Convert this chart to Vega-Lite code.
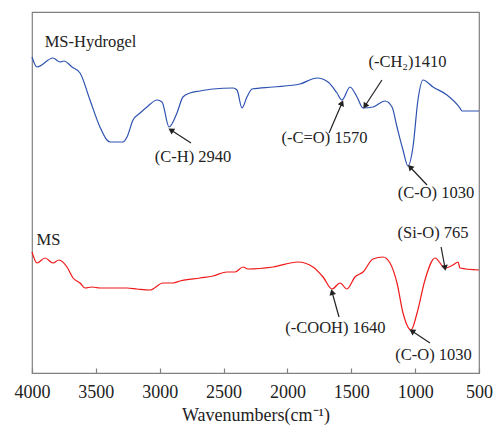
{
  "$schema": "https://vega.github.io/schema/vega-lite/v6.json",
  "autosize": {"type": "none"},
  "padding": {"left": 32, "top": 12, "right": 14, "bottom": 52},
  "width": 447,
  "height": 361,
  "config": {
    "view": {"stroke": "#808080", "strokeWidth": 1.2},
    "axis": {"grid": false, "labelFont": "Liberation Serif", "titleFont": "Liberation Serif"},
    "text": {"font": "Liberation Serif"}
  },
  "datasets": {
    "spectra": [
      {"sample": "MS-Hydrogel", "wavenumber": 4000, "value": 316},
      {"sample": "MS-Hydrogel", "wavenumber": 3961, "value": 306},
      {"sample": "MS-Hydrogel", "wavenumber": 3836, "value": 315},
      {"sample": "MS-Hydrogel", "wavenumber": 3781, "value": 311},
      {"sample": "MS-Hydrogel", "wavenumber": 3749, "value": 312},
      {"sample": "MS-Hydrogel", "wavenumber": 3687, "value": 306},
      {"sample": "MS-Hydrogel", "wavenumber": 3624, "value": 300},
      {"sample": "MS-Hydrogel", "wavenumber": 3546, "value": 273},
      {"sample": "MS-Hydrogel", "wavenumber": 3468, "value": 246},
      {"sample": "MS-Hydrogel", "wavenumber": 3413, "value": 233},
      {"sample": "MS-Hydrogel", "wavenumber": 3389, "value": 231},
      {"sample": "MS-Hydrogel", "wavenumber": 3287, "value": 231},
      {"sample": "MS-Hydrogel", "wavenumber": 3256, "value": 236},
      {"sample": "MS-Hydrogel", "wavenumber": 3209, "value": 253},
      {"sample": "MS-Hydrogel", "wavenumber": 3154, "value": 260},
      {"sample": "MS-Hydrogel", "wavenumber": 3100, "value": 266},
      {"sample": "MS-Hydrogel", "wavenumber": 3021, "value": 273},
      {"sample": "MS-Hydrogel", "wavenumber": 2982, "value": 271},
      {"sample": "MS-Hydrogel", "wavenumber": 2927, "value": 246},
      {"sample": "MS-Hydrogel", "wavenumber": 2865, "value": 260},
      {"sample": "MS-Hydrogel", "wavenumber": 2818, "value": 276},
      {"sample": "MS-Hydrogel", "wavenumber": 2763, "value": 280},
      {"sample": "MS-Hydrogel", "wavenumber": 2685, "value": 282},
      {"sample": "MS-Hydrogel", "wavenumber": 2583, "value": 284},
      {"sample": "MS-Hydrogel", "wavenumber": 2426, "value": 285},
      {"sample": "MS-Hydrogel", "wavenumber": 2395, "value": 283},
      {"sample": "MS-Hydrogel", "wavenumber": 2356, "value": 265},
      {"sample": "MS-Hydrogel", "wavenumber": 2317, "value": 276},
      {"sample": "MS-Hydrogel", "wavenumber": 2277, "value": 284},
      {"sample": "MS-Hydrogel", "wavenumber": 2113, "value": 286},
      {"sample": "MS-Hydrogel", "wavenumber": 1902, "value": 289},
      {"sample": "MS-Hydrogel", "wavenumber": 1768, "value": 295},
      {"sample": "MS-Hydrogel", "wavenumber": 1682, "value": 291},
      {"sample": "MS-Hydrogel", "wavenumber": 1612, "value": 280},
      {"sample": "MS-Hydrogel", "wavenumber": 1573, "value": 273},
      {"sample": "MS-Hydrogel", "wavenumber": 1510, "value": 286},
      {"sample": "MS-Hydrogel", "wavenumber": 1455, "value": 276},
      {"sample": "MS-Hydrogel", "wavenumber": 1408, "value": 265},
      {"sample": "MS-Hydrogel", "wavenumber": 1330, "value": 266},
      {"sample": "MS-Hydrogel", "wavenumber": 1236, "value": 272},
      {"sample": "MS-Hydrogel", "wavenumber": 1181, "value": 266},
      {"sample": "MS-Hydrogel", "wavenumber": 1142, "value": 246},
      {"sample": "MS-Hydrogel", "wavenumber": 1095, "value": 223},
      {"sample": "MS-Hydrogel", "wavenumber": 1056, "value": 207},
      {"sample": "MS-Hydrogel", "wavenumber": 1017, "value": 226},
      {"sample": "MS-Hydrogel", "wavenumber": 978, "value": 273},
      {"sample": "MS-Hydrogel", "wavenumber": 939, "value": 293},
      {"sample": "MS-Hydrogel", "wavenumber": 860, "value": 286},
      {"sample": "MS-Hydrogel", "wavenumber": 751, "value": 278},
      {"sample": "MS-Hydrogel", "wavenumber": 649, "value": 265},
      {"sample": "MS-Hydrogel", "wavenumber": 633, "value": 262},
      {"sample": "MS-Hydrogel", "wavenumber": 500, "value": 262},
      {"sample": "MS", "wavenumber": 4000, "value": 121},
      {"sample": "MS", "wavenumber": 3961, "value": 110},
      {"sample": "MS", "wavenumber": 3898, "value": 115},
      {"sample": "MS", "wavenumber": 3836, "value": 110},
      {"sample": "MS", "wavenumber": 3789, "value": 113},
      {"sample": "MS", "wavenumber": 3726, "value": 106},
      {"sample": "MS", "wavenumber": 3679, "value": 95},
      {"sample": "MS", "wavenumber": 3624, "value": 90},
      {"sample": "MS", "wavenumber": 3585, "value": 85},
      {"sample": "MS", "wavenumber": 3530, "value": 86},
      {"sample": "MS", "wavenumber": 3468, "value": 85},
      {"sample": "MS", "wavenumber": 3366, "value": 85},
      {"sample": "MS", "wavenumber": 3256, "value": 85},
      {"sample": "MS", "wavenumber": 3178, "value": 84},
      {"sample": "MS", "wavenumber": 3076, "value": 83},
      {"sample": "MS", "wavenumber": 2974, "value": 90},
      {"sample": "MS", "wavenumber": 2896, "value": 90},
      {"sample": "MS", "wavenumber": 2841, "value": 92},
      {"sample": "MS", "wavenumber": 2685, "value": 95},
      {"sample": "MS", "wavenumber": 2583, "value": 97},
      {"sample": "MS", "wavenumber": 2473, "value": 101},
      {"sample": "MS", "wavenumber": 2410, "value": 101},
      {"sample": "MS", "wavenumber": 2348, "value": 106},
      {"sample": "MS", "wavenumber": 2309, "value": 104},
      {"sample": "MS", "wavenumber": 2113, "value": 106},
      {"sample": "MS", "wavenumber": 1917, "value": 111},
      {"sample": "MS", "wavenumber": 1800, "value": 106},
      {"sample": "MS", "wavenumber": 1721, "value": 96},
      {"sample": "MS", "wavenumber": 1651, "value": 84},
      {"sample": "MS", "wavenumber": 1588, "value": 90},
      {"sample": "MS", "wavenumber": 1534, "value": 84},
      {"sample": "MS", "wavenumber": 1471, "value": 96},
      {"sample": "MS", "wavenumber": 1408, "value": 101},
      {"sample": "MS", "wavenumber": 1330, "value": 114},
      {"sample": "MS", "wavenumber": 1252, "value": 116},
      {"sample": "MS", "wavenumber": 1197, "value": 110},
      {"sample": "MS", "wavenumber": 1142, "value": 90},
      {"sample": "MS", "wavenumber": 1095, "value": 60},
      {"sample": "MS", "wavenumber": 1032, "value": 43},
      {"sample": "MS", "wavenumber": 985, "value": 60},
      {"sample": "MS", "wavenumber": 923, "value": 93},
      {"sample": "MS", "wavenumber": 844, "value": 115},
      {"sample": "MS", "wavenumber": 766, "value": 105},
      {"sample": "MS", "wavenumber": 704, "value": 108},
      {"sample": "MS", "wavenumber": 664, "value": 111},
      {"sample": "MS", "wavenumber": 649, "value": 105},
      {"sample": "MS", "wavenumber": 500, "value": 103}
    ],
    "labels": [
      {"label": "MS-Hydrogel", "wavenumber": 3542, "value": 331},
      {"label": "(C-H) 2940", "wavenumber": 2739, "value": 216},
      {"label": "(-C=O) 1570", "wavenumber": 1710, "value": 235},
      {"label": "(-CH₂)1410", "wavenumber": 1060, "value": 311},
      {"label": "(C-O) 1030", "wavenumber": 837, "value": 180},
      {"label": "MS", "wavenumber": 3871, "value": 133},
      {"label": "(Si-O) 765", "wavenumber": 860, "value": 140},
      {"label": "(-COOH) 1640", "wavenumber": 1624, "value": 45},
      {"label": "(C-O) 1030", "wavenumber": 856, "value": 18}
    ],
    "arrows": [
      {"tail_w": 2755, "tail_v": 230, "head_w": 2912, "head_v": 243},
      {"tail_w": 1674, "tail_v": 240, "head_w": 1573, "head_v": 270},
      {"tail_w": 1260, "tail_v": 293, "head_w": 1393, "head_v": 267},
      {"tail_w": 907, "tail_v": 188, "head_w": 1040, "head_v": 206},
      {"tail_w": 797, "tail_v": 126, "head_w": 766, "head_v": 105},
      {"tail_w": 1596, "tail_v": 56, "head_w": 1651, "head_v": 81},
      {"tail_w": 884, "tail_v": 30, "head_w": 1025, "head_v": 42}
    ]
  },
  "layer": [
    {
      "data": {"name": "spectra"},
      "mark": {"type": "line", "strokeWidth": 1.2, "interpolate": "monotone"},
      "encoding": {
        "x": {
          "field": "wavenumber", "type": "quantitative",
          "scale": {"domain": [4000, 500], "nice": false},
          "axis": {
            "values": [4000, 3500, 3000, 2500, 2000, 1500, 1000, 500],
            "format": "d",
            "title": "Wavenumbers(cm⁻¹)",
            "domainColor": "#808080", "domainWidth": 1.2,
            "tickColor": "#808080", "tickSize": -5, "tickWidth": 1.2,
            "labelFont": "Liberation Serif", "labelFontSize": 18, "labelColor": "#222",
            "labelPadding": 15, "labelFlush": false, "labelOverlap": false,
            "titleFont": "Liberation Serif", "titleFontSize": 18, "titleFontWeight": "normal",
            "titleColor": "#222", "titlePadding": 5
          }
        },
        "y": {
          "field": "value", "type": "quantitative",
          "scale": {"domain": [0, 361], "nice": false},
          "axis": null
        },
        "color": {
          "field": "sample", "type": "nominal",
          "scale": {"domain": ["MS-Hydrogel", "MS"], "range": ["#2d52b0", "#f01818"]},
          "legend": null
        }
      }
    },
    {
      "data": {"name": "arrows"},
      "mark": {"type": "rule", "color": "#222", "strokeWidth": 1.2},
      "encoding": {
        "x": {"field": "tail_w", "type": "quantitative"},
        "y": {"field": "tail_v", "type": "quantitative"},
        "x2": {"field": "head_w"},
        "y2": {"field": "head_v"}
      }
    },
    {
      "data": {"name": "arrows"},
      "transform": [
        {"calculate": "atan2(-(datum.head_w - datum.tail_w) * 447 / 3500, datum.head_v - datum.tail_v) * 180 / PI", "as": "dir"}
      ],
      "mark": {"type": "point", "shape": "triangle-up", "filled": true, "color": "#222", "size": 45, "opacity": 1},
      "encoding": {
        "x": {"field": "head_w", "type": "quantitative"},
        "y": {"field": "head_v", "type": "quantitative"},
        "angle": {"field": "dir", "type": "quantitative", "scale": null}
      }
    },
    {
      "data": {"name": "labels"},
      "mark": {"type": "text", "font": "Liberation Serif", "fontSize": 16.5, "color": "#222", "align": "center", "baseline": "middle"},
      "encoding": {
        "x": {"field": "wavenumber", "type": "quantitative"},
        "y": {"field": "value", "type": "quantitative"},
        "text": {"field": "label"}
      }
    }
  ]
}
